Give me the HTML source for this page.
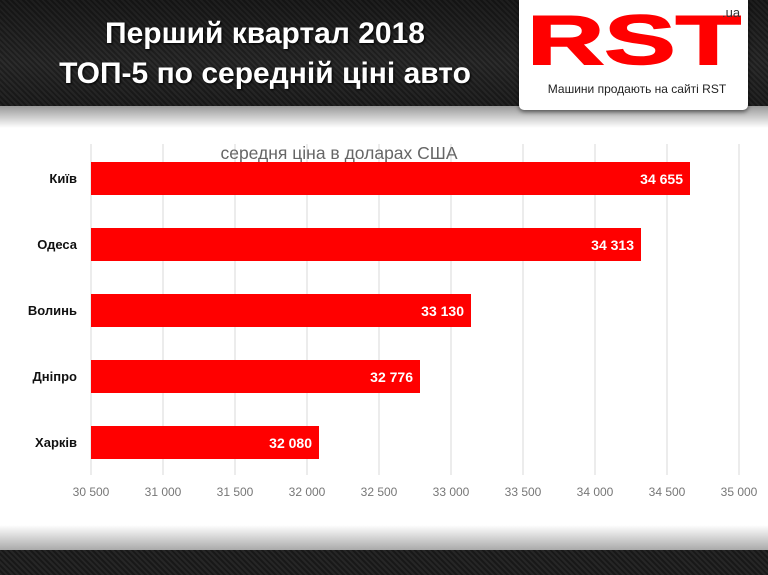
<!DOCTYPE html>
<html><head><meta charset="utf-8"><style>
body{margin:0;width:768px;height:575px;overflow:hidden;background:#fff;font-family:"Liberation Sans",sans-serif;position:relative}
.hdr{position:absolute;left:0;top:0;width:768px;height:106px;background:repeating-linear-gradient(45deg,#2a2a2a 0 2px,#1c1c1c 2px 4px);}
.hdr:after{content:"";position:absolute;left:0;right:0;top:0;bottom:0;background:linear-gradient(to bottom,rgba(0,0,0,.3),rgba(60,60,60,.1) 60%,rgba(0,0,0,.2))}
.sh{position:absolute;left:0;top:106px;width:768px;height:22px;background:linear-gradient(#999,#fff)}
.ftr{position:absolute;left:0;top:550px;width:768px;height:25px;background:repeating-linear-gradient(45deg,#262626 0 2px,#181818 2px 4px)}
.fsh{position:absolute;left:0;top:525px;width:768px;height:25px;background:linear-gradient(#fff,#aaa)}
.t{position:absolute;left:0;width:530px;text-align:center;color:#fff;font-weight:bold;font-size:30px;z-index:2;text-shadow:1px 1px 2px #000}
.logo{position:absolute;left:519px;top:0;width:229px;height:110px;background:#fff;border-radius:0 0 5px 5px;box-shadow:0 2px 4px rgba(0,0,0,.5);z-index:3}
</style></head><body>
<div class="hdr"></div><div class="sh"></div>
<div class="t" style="top:17px">Перший квартал 2018</div>
<div class="t" style="top:57px">ТОП-5 по середній ціні авто</div>
<div class="logo">
<svg width="229" height="110" style="position:absolute;left:0;top:0">
<text x="8" y="64" font-family="Liberation Sans" font-weight="bold" font-size="70" fill="#f00" textLength="214" lengthAdjust="spacingAndGlyphs" stroke="#f00" stroke-width="1.5">RST</text>
<text x="203" y="17" font-family="Liberation Sans" font-size="13" fill="#333">.ua</text>
<text x="118" y="93" font-family="Liberation Sans" font-size="12" fill="#222" text-anchor="middle">Машини продають на сайті RST</text>
</svg>
</div>
<div class="fsh"></div><div class="ftr"></div>
<svg style="position:absolute;left:0;top:0" width="768" height="575">
<g stroke="#d9d9d9" stroke-width="1">
<line x1="91" y1="144" x2="91" y2="475"/><line x1="163" y1="144" x2="163" y2="475"/><line x1="235" y1="144" x2="235" y2="475"/><line x1="307" y1="144" x2="307" y2="475"/><line x1="379" y1="144" x2="379" y2="475"/><line x1="451" y1="144" x2="451" y2="475"/><line x1="523" y1="144" x2="523" y2="475"/><line x1="595" y1="144" x2="595" y2="475"/><line x1="667" y1="144" x2="667" y2="475"/><line x1="739" y1="144" x2="739" y2="475"/>
</g>
<text x="339" y="159" font-family="Liberation Sans" font-size="17.5" fill="#666" text-anchor="middle">середня ціна в доларах США</text>
<g fill="#f00">
<rect x="91" y="162" width="599" height="33"/><rect x="91" y="228" width="550" height="33"/><rect x="91" y="294" width="380" height="33"/><rect x="91" y="360" width="329" height="33"/><rect x="91" y="426" width="228" height="33"/>
</g>
<g font-family="Liberation Sans" font-size="14" font-weight="bold" fill="#fff" text-anchor="end">
<text x="683" y="184">34 655</text><text x="634" y="250">34 313</text><text x="464" y="316">33 130</text><text x="413" y="382">32 776</text><text x="312" y="448">32 080</text>
</g>
<g font-family="Liberation Sans" font-size="13" font-weight="bold" fill="#111" text-anchor="end">
<text x="77" y="183">Київ</text><text x="77" y="249">Одеса</text><text x="77" y="315">Волинь</text><text x="77" y="381">Дніпро</text><text x="77" y="447">Харків</text>
</g>
<g font-family="Liberation Sans" font-size="12" fill="#777" text-anchor="middle">
<text x="91" y="496">30 500</text><text x="163" y="496">31 000</text><text x="235" y="496">31 500</text><text x="307" y="496">32 000</text><text x="379" y="496">32 500</text><text x="451" y="496">33 000</text><text x="523" y="496">33 500</text><text x="595" y="496">34 000</text><text x="667" y="496">34 500</text><text x="739" y="496">35 000</text>
</g>
</svg>
</body></html>
